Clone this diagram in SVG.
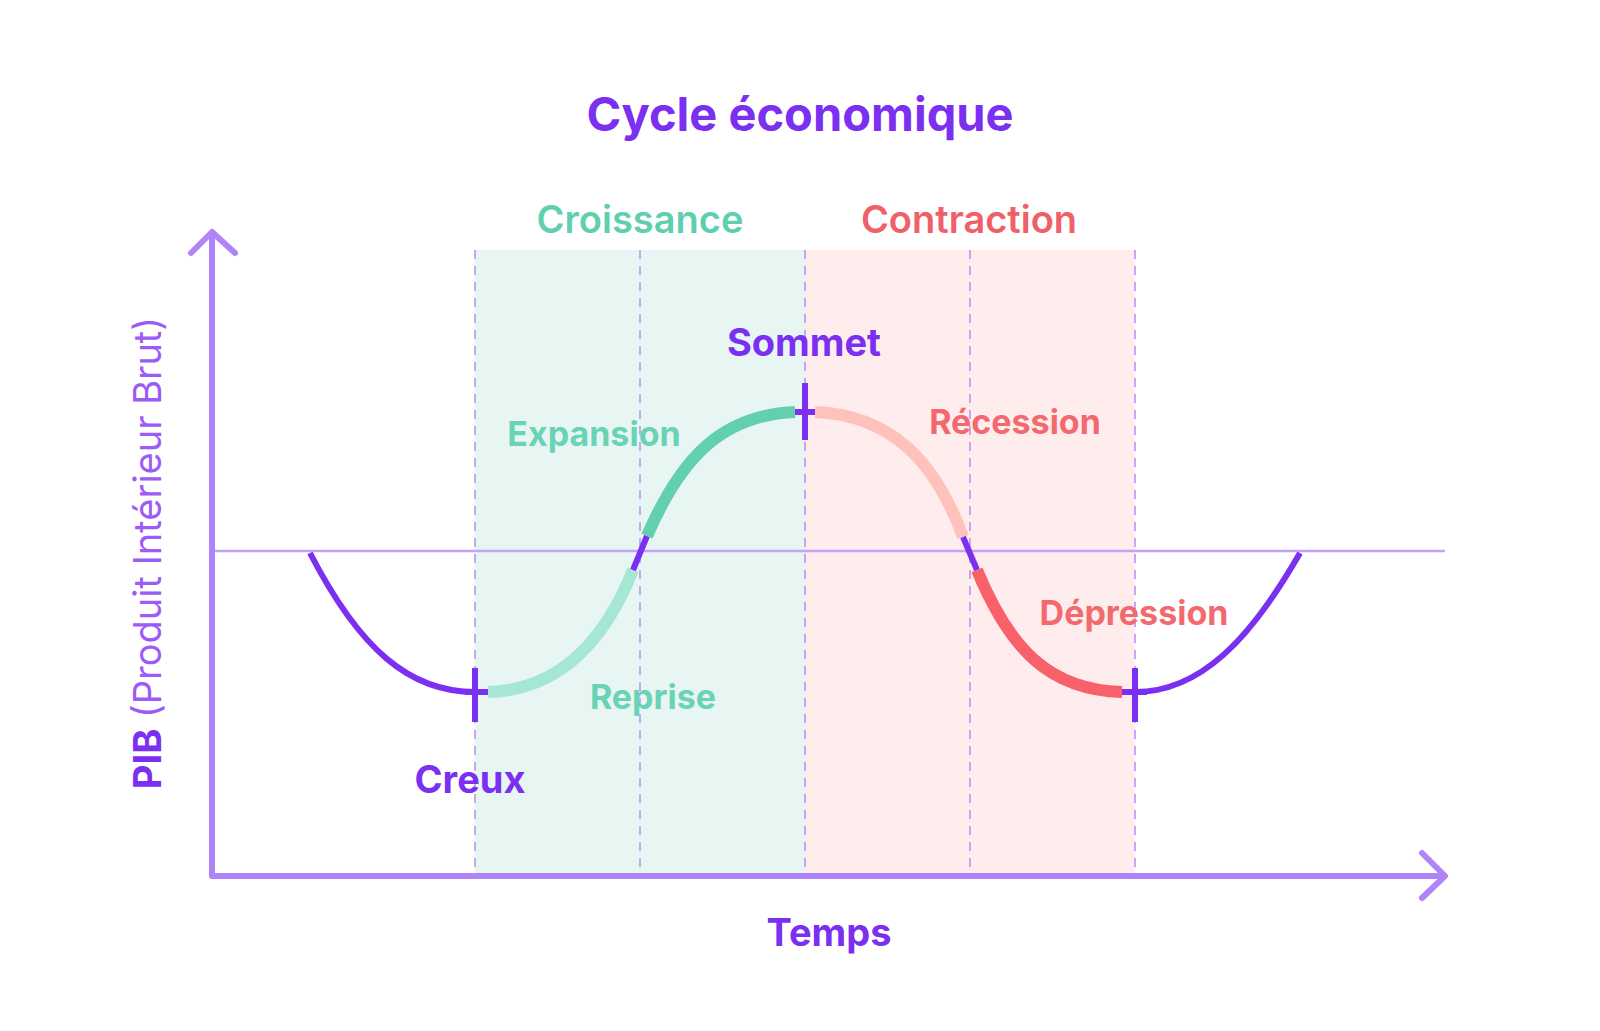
<svg xmlns="http://www.w3.org/2000/svg" width="1600" height="1031" viewBox="0 0 1600 1031">
<style>
text{font-family:"Inter","Liberation Sans",sans-serif;text-anchor:middle}
.b{font-weight:700}
.dash{stroke:#C6A6F5;stroke-width:2;stroke-dasharray:9 7;fill:none}
.axis{stroke:#B084F9;stroke-width:6;fill:none;stroke-linecap:round;stroke-linejoin:round}
.c{fill:none;stroke-width:12}
.p{stroke:#7B2FF0;stroke-width:6}
</style>
<rect width="1600" height="1031" fill="#fff"/>
<g id="bands">
<rect x="475" y="250" width="330" height="626" fill="#E7F6F2"/>
<rect x="805" y="250" width="330" height="626" fill="#FFECEC"/>
<path class="dash" d="M475 250V876M640 250V876M805 250V876M970 250V876M1135 250V876"/>
</g>
<g id="connectors">
<path d="M215 551H1445" stroke="#C4A3FA" stroke-width="2.5"/>
<path class="axis" d="M212 876V234M191 253L212 232L235 253M212 876H1443M1422 853L1445 876L1422 898"/>
<path class="c p" d="M310 553C360 650 410 692 475 692"/>
<path class="c" stroke="#A5E6D5" d="M488 692C560 690 605 640 633 570"/>
<path class="c p" d="M633 570L647 536"/>
<path class="c" stroke="#62CFB1" d="M647 536C680 460 720 415 795 412"/>
<path class="c" stroke="#FFC1BB" d="M815 412C890 415 935 460 963 537"/>
<path class="c p" d="M963 537L977 570"/>
<path class="c" stroke="#F8606A" d="M977 570C1010 650 1050 690 1122 692"/>
<path class="c p" d="M1135 692C1200 692 1250 640 1300 553"/>
<path class="c p" d="M805 383V440M795 412H815M475 668V722M465 692H488M1135 668V722M1122 692H1147"/>
</g>
<g id="title"><text class="b" x="800" y="131" font-size="47" fill="#7B2FF0">Cycle économique</text></g>
<g id="phases">
<text x="640" y="233" font-size="38" font-weight="600" fill="#5FCFB0">Croissance</text>
<text x="969" y="233" font-size="38" font-weight="600" fill="#F06068">Contraction</text>
</g>
<g id="labels">
<text class="b" x="804" y="356" font-size="38" fill="#7B2FF0">Sommet</text>
<text class="b" x="594" y="446" font-size="34" fill="#6BD3B5">Expansion</text>
<text class="b" x="1015" y="434" font-size="34" fill="#F26A6F">Récession</text>
<text class="b" x="1134" y="625" font-size="34" fill="#F26A6F">Dépression</text>
<text class="b" x="653" y="709" font-size="34" fill="#6BD3B5">Reprise</text>
<text class="b" x="470" y="793" font-size="38" fill="#7B2FF0">Creux</text>
<text class="b" x="829" y="946" font-size="38" fill="#7B2FF0">Temps</text>
<text transform="translate(161 553) rotate(-90)" font-size="38" fill="#9B5CF5"><tspan class="b" fill="#7B2FF0">PIB</tspan> (Produit Intérieur Brut)</text>
</g>
</svg>
